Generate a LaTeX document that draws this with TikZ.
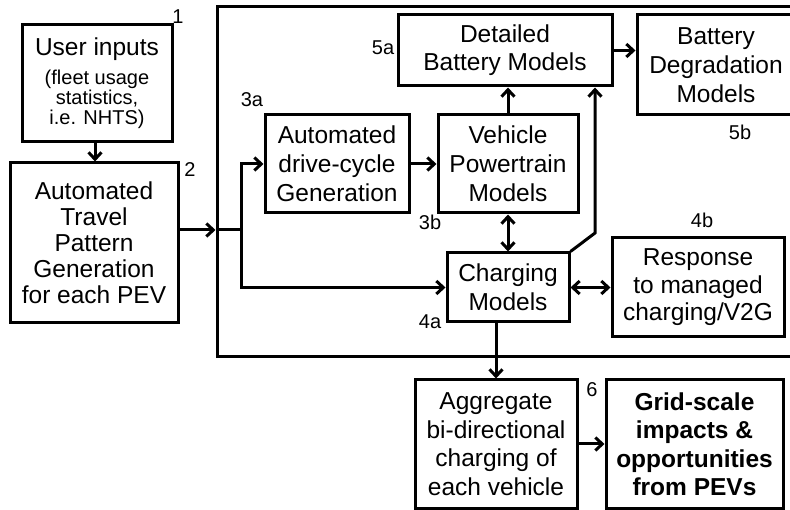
\documentclass[tikz,border=0pt]{standalone}
\usepackage{fontspec}
\setmainfont{Liberation Sans}
\usetikzlibrary{arrows.meta}
\newcommand\smalltxt{\fontsize{20}{22}\selectfont}
\begin{document}
\begin{tikzpicture}[x=1pt,y=-1pt,line width=3pt,
  box/.style={draw,line width=3pt,inner sep=0pt,align=center,font=\fontsize{24.5}{28}\selectfont},
  tag/.style={inner sep=0pt,font=\fontsize{20}{22}\selectfont},
  arr/.style={-{Straight Barb[length=7pt,width=13pt]}},
  darr/.style={{Straight Barb[length=7pt,width=13pt]}-{Straight Barb[length=7pt,width=13pt]}}]
\useasboundingbox (0,0) rectangle (790,510);
\clip (0,0) rectangle (790,510);

% outer frame
\node[draw,line width=3pt,minimum width=583pt,minimum height=350pt,inner sep=0pt] (frame) at (508.5,182) {};

% boxes
\node[box,minimum width=150pt,minimum height=117pt] (b1) at (97,83.5)
  {User inputs\\[1pt]{\smalltxt (fleet usage}\\[-8pt]{\smalltxt statistics,}\\[-8pt]{\smalltxt i.e. NHTS)}};
\node[box,font=\fontsize{24.5}{26}\selectfont,minimum width=168pt,minimum height=160pt] (b2) at (94,243)
  {Automated\\Travel\\Pattern\\Generation\\for each PEV};
\node[box,font=\fontsize{24.5}{29}\selectfont,minimum width=144pt,minimum height=98pt] (b3a) at (337,164)
  {Automated\\drive-cycle\\Generation};
\node[box,font=\fontsize{24.5}{29}\selectfont,minimum width=140pt,minimum height=98pt] (b3b) at (508,164)
  {Vehicle\\Powertrain\\Models};
\node[box,minimum width=214pt,minimum height=71pt] (b5a) at (505,50.5)
  {Detailed\\Battery Models};
\node[box,font=\fontsize{24.5}{29}\selectfont,minimum width=158pt,minimum height=100pt] (b5b) at (716,65)
  {Battery\\Degradation\\Models};
\node[box,font=\fontsize{24.5}{29}\selectfont,minimum width=122pt,minimum height=69pt] (b4a) at (508,287.5)
  {Charging\\Models};
\node[box,font=\fontsize{24.5}{27.5}\selectfont,minimum width=172pt,minimum height=99pt] (b4b) at (698,287.5)
  {Response\\to managed\\charging/V2G};
\node[box,font=\fontsize{24.5}{28.5}\selectfont,minimum width=162pt,minimum height=128pt] (b6a) at (496,444)
  {Aggregate\\bi-directional\\charging of\\each vehicle};
\node[box,font=\fontsize{24.5}{28.5}\selectfont\bfseries,minimum width=177pt,minimum height=128pt] (b6b) at (694.5,444)
  {Grid-scale\\impacts \&\\opportunities\\from PEVs};

% tags
\node[tag] (t1) at (178,17) {1};
\node[tag] (t2) at (190,170) {2};
\node[tag] (t3a) at (252,100) {3a};
\node[tag] (t3b) at (430,222) {3b};
\node[tag] (t4a) at (430,322) {4a};
\node[tag] (t4b) at (702,220) {4b};
\node[tag] (t5a) at (383,48) {5a};
\node[tag] (t5b) at (740,132) {5b};
\node[tag] (t6) at (592,390) {6};

% connectors
\coordinate (j) at (241,230);
\coordinate (bend) at (595,233);
\draw[arr] (b1.south -| 95,0) -- (b2.north -| 95,0);
\draw[arr] (b2.east |- j) -- (frame.west |- j);
\draw (frame.west |- j) -- (j);
\draw[arr] (j) |- (b3a.west);
\draw[arr] (j) |- (b4a.west);
\draw[arr] (b3a.east) -- (b3b.west);
\draw[arr] (b3b.north) -- (b3b.north |- b5a.south);
\draw[darr] (b3b.south) -- (b4a.north);
\draw[arr] (b4a.north east) -- (bend) -- (bend |- b5a.south);
\draw[darr] (b4a.east) -- (b4b.west);
\draw[arr] (b5a.east) -- (b5a.east -| b5b.west);
\draw[arr] (b6a.north |- b4a.south) -- (b6a.north);
\draw[arr] (b6a.east) -- (b6b.west);
\end{tikzpicture}
\end{document}
